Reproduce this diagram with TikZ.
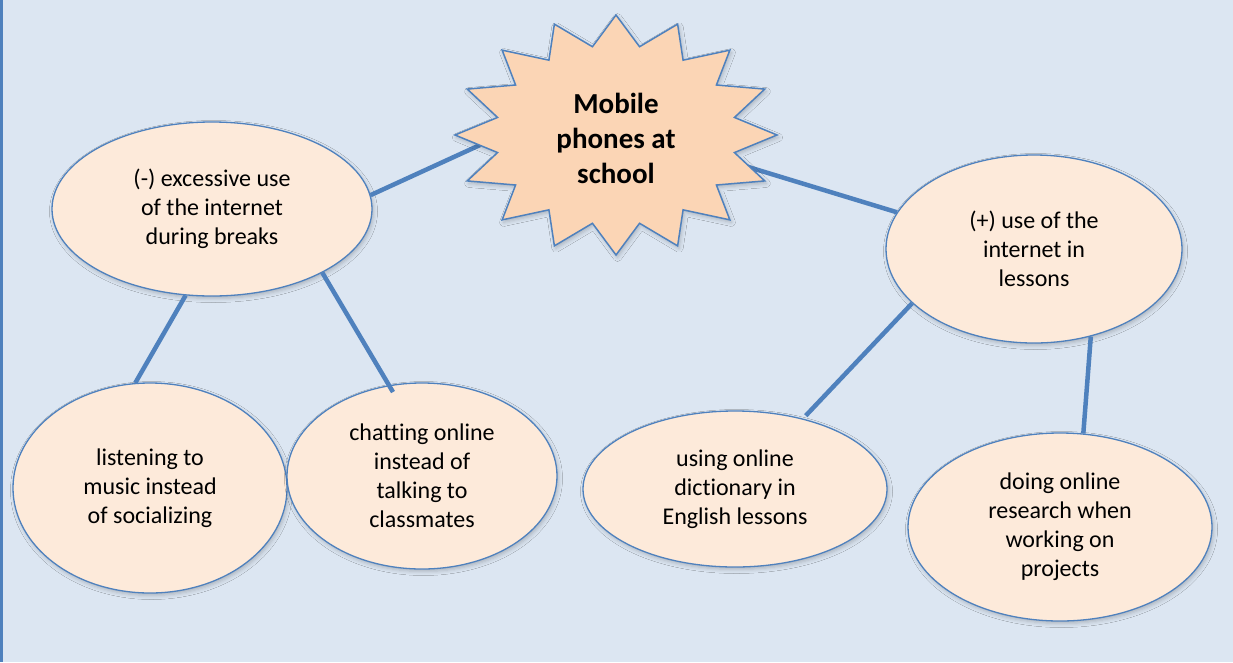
\documentclass[tikz,border=0pt]{standalone}
\usepackage{fontspec}
\setmainfont[Ligatures=NoCommon]{Carlito}
\usetikzlibrary{shapes.geometric,shadows.blur}
\definecolor{bgblue}{HTML}{DCE6F2}
\definecolor{edgeblue}{HTML}{4F81BD}
\definecolor{bubble}{HTML}{FDEADA}
\definecolor{burst}{HTML}{FBD5B5}

\begin{document}
\begin{tikzpicture}[x=1pt,y=-1pt,
  softshadow/.style={blur shadow={shadow xshift=1.5pt, shadow yshift=-2.5pt,
      shadow blur radius=4pt, shadow opacity=22}},
  idea/.style={ellipse, draw=edgeblue, line width=1.3pt, fill=bubble,
      inner sep=0pt, align=center, softshadow,
      font=\fontsize{24}{29}\selectfont},
  link/.style={draw=edgeblue, line width=4.5pt},
  hubtext/.style={align=center, font=\fontsize{29}{35}\selectfont\bfseries},
]
% page background and left rule
\fill[bgblue] (0,0) rectangle (1233,662);
\useasboundingbox (0,0) rectangle (1233,662);
\draw[edgeblue, line width=2.5pt] (1.25,0) -- (1.25,662);

% idea bubbles
\node[idea, minimum width=274pt, minimum height=210pt] (BL) at (150,488)
  {listening to\\music instead\\of socializing};
\node[idea, minimum width=270pt, minimum height=186pt] (CH) at (422,476)
  {chatting online\\instead of\\talking to\\classmates};
\node[idea, minimum width=320pt, minimum height=174pt] (L) at (212,209)
  {(-) excessive use\\of the internet\\during breaks};
\node[idea, minimum width=296pt, minimum height=188pt] (R) at (1034,249)
  {(+) use of the\\internet in\\lessons};
\node[idea, minimum width=304pt, minimum height=156pt] (D) at (735,489)
  {using online\\dictionary in\\English lessons};
\node[idea, minimum width=304pt, minimum height=188pt] (S) at (1060,527)
  {doing online\\research when\\working on\\projects};

% ends of the links on the burst
\coordinate (hubW) at (480,145);
\coordinate (hubE) at (745,166);

% links
\draw[link] (L.5) -- (hubW);
\draw[link] (hubE) -- (R.165);
\draw[link] (L.-107) -- (BL.98);
\draw[link, shorten >=-8pt] (L.-30) -- (CH.110);
\draw[link, shorten >=4pt] (R.204) -- (D.46);
\draw[link] (R.-57) -- (S.76);

% central 16-point burst
\draw[draw=edgeblue, line width=1.5pt, fill=burst, softshadow]
  plot[samples at={0,1,...,31}]
  ({616+161*(1-0.25*mod(\x,2))*cos(90+11.25*\x)},
   {135-120*(1-0.25*mod(\x,2))*sin(90+11.25*\x)}) -- cycle;
\node[hubtext] (hub) at (616,138) {Mobile\\phones at\\school};
\end{tikzpicture}
\end{document}
